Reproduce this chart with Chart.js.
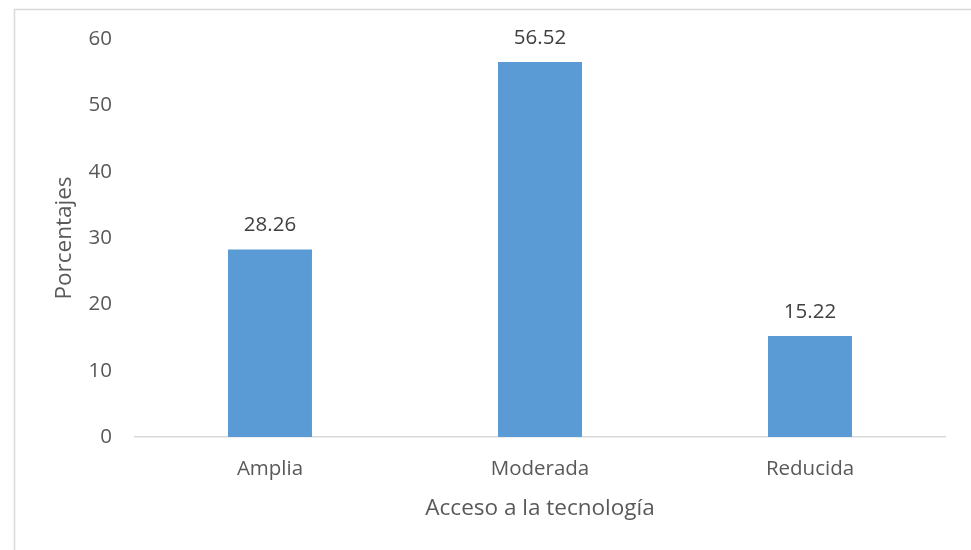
<!DOCTYPE html>
<html>
<head>
  <meta charset="utf-8">
  <title>Acceso a la tecnología</title>
  <script src="https://cdn.jsdelivr.net/npm/chart.js"></script>
  <style>
    html, body {
      margin: 0;
      padding: 0;
      background: #fff;
    }
    #wrap {
      width: 971px;
      height: 550px;
    }
  </style>
</head>
<body>
<div id="wrap">
  <canvas id="tech_chart"></canvas>
</div>

<script>
  // chart data
  const categories = ['Amplia', 'Moderada', 'Reducida'];
  const percentages = [28.26, 56.52, 15.22];
  const yTicks = [0, 10, 20, 30, 40, 50, 60];

  const textColor = '#595959';
  const fontFamily = '"Open Sans", "Noto Sans", sans-serif';

  // light grey frame round the chart, like the office chart border
  const frame = {
    id: 'frame',
    beforeDraw(chart) {
      const c = chart.ctx;
      c.save();
      c.strokeStyle = '#d9d9d9';
      c.lineWidth = 1.5;
      c.strokeRect(14.5, 9.5, 1100, 700);
      c.restore();
    }
  };

  // values written above each bar
  const valueLabels = {
    id: 'valueLabels',
    afterDatasetsDraw(chart) {
      const c = chart.ctx;
      const meta = chart.getDatasetMeta(0);
      c.save();
      c.font = '20.5px ' + fontFamily;
      c.fillStyle = '#404040';
      c.textAlign = 'center';
      c.textBaseline = 'middle';
      meta.data.forEach((bar, i) => {
        c.fillText(percentages[i].toFixed(2), bar.x, bar.y - 24);
      });
      c.restore();
    }
  };

  var ctx = document.getElementById('tech_chart').getContext('2d');
  var techChart = new Chart(ctx, {
    type: 'bar',
    data: {
      labels: categories,
      datasets: [{
        label: 'Porcentajes',
        data: percentages,
        backgroundColor: '#5b9bd5',
        borderWidth: 0,
        categoryPercentage: 1,
        barPercentage: 0.311
      }]
    },
    options: {
      responsive: true,
      maintainAspectRatio: false,
      animation: false,
      layout: {
        padding: { top: 39, right: 26, bottom: 0, left: 0 }
      },
      plugins: {
        legend: { display: false },
        tooltip: { enabled: false }
      },
      scales: {
        x: {
          grid: { display: false, drawTicks: false },
          border: { display: true, color: '#d9d9d9', width: 1.5 },
          ticks: {
            color: textColor,
            padding: 20,
            font: { family: fontFamily, size: 20.5 }
          },
          title: {
            display: true,
            text: 'Acceso a la tecnología',
            color: textColor,
            font: { family: fontFamily, size: 22.5 },
            padding: { top: 0, bottom: 28 }
          },
          afterFit(scale) {
            scale.height = 113;
          }
        },
        y: {
          min: 0,
          max: 60,
          grid: { display: false, drawTicks: false },
          border: { display: false },
          afterBuildTicks(scale) {
            scale.ticks = yTicks.map(v => ({ value: v }));
          },
          ticks: {
            color: textColor,
            padding: 23,
            font: { family: fontFamily, size: 20.5 }
          },
          title: {
            display: true,
            text: 'Porcentajes',
            color: textColor,
            font: { family: fontFamily, size: 22.5 },
            padding: { top: 51.5, bottom: 0 }
          },
          afterFit(scale) {
            scale.width = 135;
          }
        }
      }
    },
    plugins: [frame, valueLabels]
  });
</script>
</body>
</html>
